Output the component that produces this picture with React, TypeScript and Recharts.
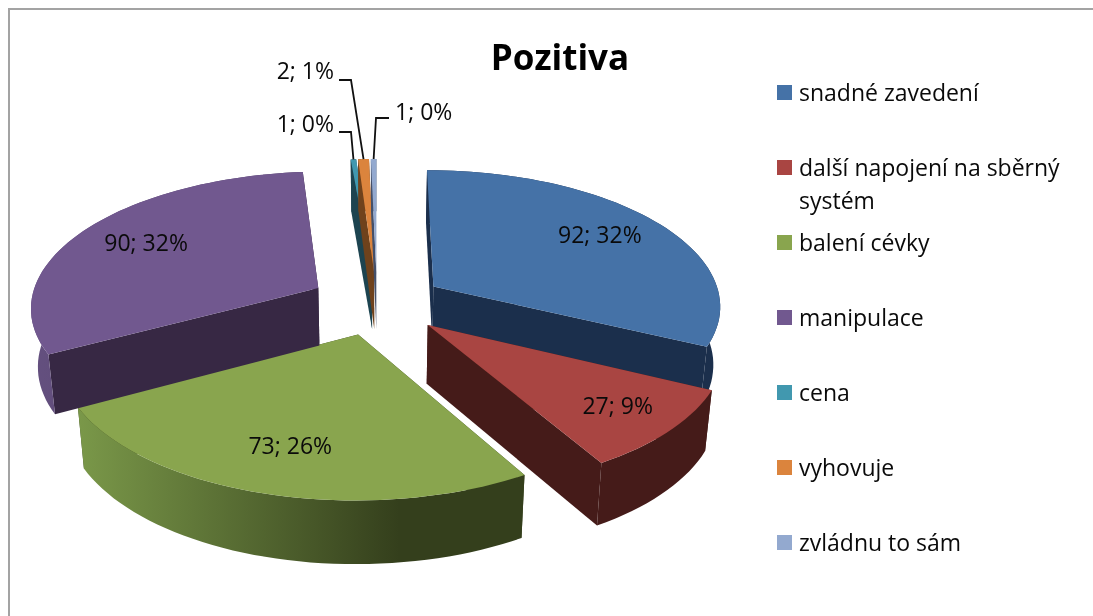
import { Legend, Pie, PieChart } from 'recharts'

const categories = [
  'snadné zavedení',
  'další napojení na sběrný systém',
  'balení cévky',
  'manipulace',
  'cena',
  'vyhovuje',
  'zvládnu to sám',
]
const values = [92, 27, 73, 90, 1, 2, 1]
const percentLabels = [32, 9, 26, 32, 0, 1, 0]
const topColors = ['#4572a7', '#a94542', '#89a54e', '#71588f', '#4198af', '#db843d', '#93a9cf']
const wallColors = ['#1b2f4c', '#451b19', '#38431f', '#372844', '#1d4450', '#6f421c', '#44506a']
const arcLeftColors = ['#1b2f4c', '#451b19', '#7a9849', '#64507f', '#1d4450', '#6f421c', '#44506a']
const arcRightColors = ['#1b2f4c', '#451b19', '#343f1c', '#4d3b63', '#1d4450', '#6f421c', '#44506a']

const labelFont = '"Open Sans", "Noto Sans", sans-serif'
const textColor = '#0a0a0a'
const LABEL_SIZE = 23

// page coords minus the 8px body margin
const CX = 369
const CY = 295
const RADIUS = 288
const SQUASH = 0.47
const PERSPECTIVE = 0.13
const EXPLODE = 0.235
const DEPTH = 58

const data = categories.map((name, i) => ({ name, value: values[i], fill: topColors[i] }))

const rad = (d: number) => (d * Math.PI) / 180

// theta is clockwise from 12 o'clock, r is 1 at the rim
function project(theta: number, r: number, mid: number, down: boolean) {
  const gx = r * Math.sin(rad(theta)) + EXPLODE * Math.sin(rad(mid))
  const gy = r * Math.cos(rad(theta)) + EXPLODE * Math.cos(rad(mid))
  const s = 1 / (1 + PERSPECTIVE * gy)
  let x = RADIUS * gx * s
  let y = -RADIUS * SQUASH * gy * s
  if (down) {
    x *= 0.98
    y += DEPTH * (1 - 0.08 * gy)
  }
  return [CX + x, CY + y]
}

const toPath = (pts: number[][]) =>
  'M' + pts.map((p) => `${p[0].toFixed(1)},${p[1].toFixed(1)}`).join('L') + 'Z'

function Slice3D(props: any) {
  const { startAngle, endAngle, index, fill } = props
  const a0 = 90 - startAngle
  const a1 = 90 - endAngle
  const mid = (a0 + a1) / 2
  const steps = Math.max(6, Math.ceil((a1 - a0) / 2))
  const thetas = Array.from({ length: steps + 1 }, (_, i) => a0 + ((a1 - a0) * i) / steps)

  const rimTop = thetas.map((t) => project(t, 1, mid, false))
  const rimBottom = thetas.map((t) => project(t, 1, mid, true))
  const apexTop = project(0, 0, mid, false)
  const apexBottom = project(0, 0, mid, true)
  const wall = wallColors[index]

  return (
    <g>
      <path d={toPath([apexTop, rimTop[0], rimBottom[0], apexBottom])} fill={wall} />
      <path d={toPath([apexTop, rimTop[steps], rimBottom[steps], apexBottom])} fill={wall} />
      <path d={toPath([...rimTop, ...[...rimBottom].reverse()])} fill={`url(#arc-${index})`} />
      <path d={toPath([apexTop, ...rimTop])} fill={fill} />
    </g>
  )
}

// where the text sits: along the bisector for the big slices, pulled out with a leader for the small ones
const labelReach = [0.74, 0.8, 0.74, 0.73]
const leaders: Record<number, { x: number; y: number; elbow: number; lineY: number; anchor: 'end' | 'start' }> = {
  4: { x: 326, y: 115, elbow: 343, lineY: 124, anchor: 'end' },
  5: { x: 326, y: 62, elbow: 343, lineY: 72, anchor: 'end' },
  6: { x: 387, y: 103, elbow: 368, lineY: 110, anchor: 'start' },
}

function SliceLabel(props: any) {
  const { index, value, midAngle } = props
  const mid = 90 - midAngle
  const text = `${value}; ${percentLabels[index]}%`
  const leader = leaders[index]
  if (leader) {
    const end = project(mid, 1, mid, false)
    const start = leader.anchor === 'end' ? leader.elbow - 12 : leader.elbow + 13
    return (
      <g>
        <polyline
          points={`${start},${leader.lineY} ${leader.elbow},${leader.lineY} ${end[0]},${end[1]}`}
          fill="none"
          stroke="#111"
          strokeWidth={1.8}
        />
        <text
          x={leader.x}
          y={leader.y}
          textAnchor={leader.anchor}
          dominantBaseline="central"
          fontFamily={labelFont}
          fontSize={LABEL_SIZE}
          fill={textColor}
        >
          {text}
        </text>
      </g>
    )
  }
  const p = project(mid, labelReach[index], mid, false)
  return (
    <text
      x={p[0]}
      y={p[1] - 3}
      textAnchor="middle"
      dominantBaseline="central"
      fontFamily={labelFont}
      fontSize={LABEL_SIZE}
      fill={textColor}
    >
      {text}
    </text>
  )
}

function LegendList({ payload }: any) {
  return (
    <ul style={{ listStyle: 'none', margin: 0, padding: 0, width: 290 }}>
      {(payload || []).map((item: any) => (
        <li
          key={item.value}
          style={{
            position: 'relative',
            height: 75,
            paddingLeft: 22,
            lineHeight: '33px',
            fontFamily: labelFont,
            fontSize: 23,
            color: textColor,
          }}
        >
          <span
            style={{
              position: 'absolute',
              left: 0,
              top: 9,
              width: 15,
              height: 15,
              background: item.color,
            }}
          />
          {item.value}
        </li>
      ))}
    </ul>
  )
}

export default function App() {
  return (
    <div
      style={{
        position: 'fixed',
        left: 8,
        top: 8,
        width: 1085,
        height: 608,
        overflow: 'hidden',
      }}
    >
      <div
        style={{
          position: 'absolute',
          left: 0,
          top: 0,
          width: 1085,
          height: 608,
          boxSizing: 'border-box',
          borderTop: '2px solid #a3a3a3',
          borderLeft: '2px solid #a3a3a3',
        }}
      />
      <PieChart width={1085} height={608} style={{ position: 'absolute', left: 0, top: 0 }}>
        <defs>
          {categories.map((c, i) => (
            <linearGradient key={c} id={`arc-${i}`} x1="0" y1="0" x2="1" y2="0">
              <stop offset="0" stopColor={arcLeftColors[i]} />
              <stop offset={i === 2 ? '0.72' : '1'} stopColor={arcRightColors[i]} />
              <stop offset="1" stopColor={arcRightColors[i]} />
            </linearGradient>
          ))}
        </defs>
        <text
          x={552}
          y={48}
          textAnchor="middle"
          dominantBaseline="central"
          fontFamily={labelFont}
          fontWeight={700}
          fontSize={35}
          fill="#000"
        >
          Pozitiva
        </text>
        <Pie
          data={data}
          dataKey="value"
          nameKey="name"
          cx={CX}
          cy={CY}
          outerRadius={RADIUS}
          startAngle={90}
          endAngle={-270}
          stroke="none"
          shape={Slice3D}
          label={SliceLabel}
          labelLine={false}
          isAnimationActive={false}
        />
        <Legend
          content={LegendList}
          layout="vertical"
          itemSorter={null}
          wrapperStyle={{ position: 'absolute', left: 769, top: 68, width: 290, bottom: 'auto', right: 'auto' }}
        />
      </PieChart>
    </div>
  )
}
